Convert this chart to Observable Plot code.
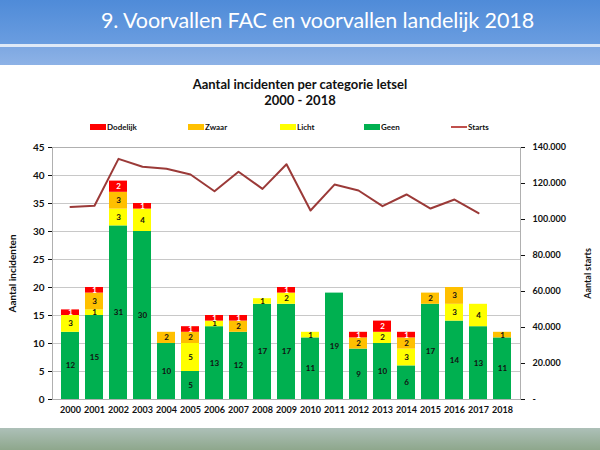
<!DOCTYPE html>
<html>
<head>
<meta charset="utf-8">
<script src="https://cdn.jsdelivr.net/npm/d3@7"></script>
<script src="https://cdn.jsdelivr.net/npm/@observablehq/plot@0.6"></script>
<style>
  html, body { margin: 0; padding: 0; }
  body { width: 600px; height: 450px; position: relative; overflow: hidden; background: #fff; font-family: Lato, "Open Sans", sans-serif; }
  #hdr { position: absolute; left: 0; top: 0; width: 600px; height: 44px; background: linear-gradient(#4f8bd8, #6a9de0); }
  #hdr2 { position: absolute; left: 0; top: 47px; width: 600px; height: 18px; background: linear-gradient(#7ea8e2, #8db2e6); }
  #hline { position: absolute; left: 0; top: 44px; width: 600px; height: 3px; background: #dfe9f7; }
  #htitle { position: absolute; left: 101px; top: 7px; color: #fff; font-size: 21.5px; font-family: Lato, sans-serif; white-space: nowrap; letter-spacing: -0.1px; }
  #foot { position: absolute; left: 0; top: 428px; width: 600px; height: 22px; background: linear-gradient(#adc0b8, #8ea78c); }
  #ctitle { position: absolute; left: 0; width: 600px; top: 76px; text-align: center; font-weight: bold; font-size: 13px; line-height: 16px; color: #111; }
  #legend { position: absolute; top: 121px; left: 0; width: 600px; height: 14px; font-size: 8px; font-weight: bold; color: #111; }
  .li { position: absolute; top: 0; display: flex; align-items: center; height: 12px; }
  .sw { display: inline-block; width: 16px; height: 6px; margin-right: 1px; }
  .ln { display: inline-block; width: 16px; height: 2px; margin-right: 1px; }
  #chart { position: absolute; left: 0; top: 140px; }
</style>
</head>
<body>
<div id="hdr"></div>
<div id="hline"></div>
<div id="hdr2"></div>
<div id="htitle">9. Voorvallen FAC en voorvallen landelijk 2018</div>
<div id="ctitle">Aantal incidenten per categorie letsel<br>2000 - 2018</div>
<div id="legend"></div>
<div id="chart"></div>
<div id="foot"></div>
<script>
const years = ["2000","2001","2002","2003","2004","2005","2006","2007","2008","2009","2010","2011","2012","2013","2014","2015","2016","2017","2018"];
const categories = ["Geen","Licht","Zwaar","Dodelijk"];
const geen     = [12,15,31,30,10, 5,13,12,17,17,11,19, 9,10, 6,17,14,13,11];
const licht    = [ 3, 1, 3, 4, 0, 5, 1, 0, 1, 2, 1, 0, 0, 2, 3, 0, 3, 4, 0];
const zwaar    = [ 0, 3, 3, 0, 2, 2, 0, 2, 0, 0, 0, 0, 2, 0, 2, 2, 3, 0, 1];
const dodelijk = [ 1, 1, 2, 1, 0, 1, 1, 1, 0, 1, 0, 0, 1, 2, 1, 0, 0, 0, 0];
const starts   = [107000,107600,133700,129300,128200,125000,115700,126500,117000,130700,105000,119400,116100,107400,113900,106100,111100,103500,null];
const colors = {Geen:"#00b050", Licht:"#ffff00", Zwaar:"#ffc000", Dodelijk:"#ff0000"};
const lineColor = "#9b3a38";
const rightTicks = [0,20000,40000,60000,80000,100000,120000,140000];

const series = {Geen: geen, Licht: licht, Zwaar: zwaar, Dodelijk: dodelijk};
const rows = [];
for (const c of categories) years.forEach((y, i) => rows.push({year: y, cat: c, value: series[c][i]}));
const nonZero = rows.filter(d => d.value > 0);
const k = 45 / 140000;
const lineRows = years.map((y, i) => ({year: y, starts: starts[i]})).filter(d => d.starts != null);
const fmt = v => { const n = Math.round(v / k); return n === 0 ? "-" : d3.format(",")(n).replace(/,/g, "."); };

// legend
const leg = document.getElementById("legend");
const legItems = [["Dodelijk", 90, "sw"], ["Zwaar", 188, "sw"], ["Licht", 280, "sw"], ["Geen", 364, "sw"], ["Starts", 451, "ln"]];
for (const [name, x, kind] of legItems) {
  const d = document.createElement("div");
  d.className = "li"; d.style.left = x + "px";
  const s = document.createElement("span");
  s.className = kind;
  s.style.background = kind === "ln" ? "#c0504d" : colors[name];
  d.appendChild(s);
  d.appendChild(document.createTextNode(name));
  leg.appendChild(d);
}

const chart = Plot.plot({
  width: 600,
  height: 285,
  marginLeft: 52,
  marginRight: 80,
  marginTop: 7,
  marginBottom: 26,
  style: {fontFamily: "Lato, sans-serif", fontWeight: "bold", fontSize: "9px", color: "#111"},
  x: {domain: years, padding: 0.27, align: 0.5},
  y: {domain: [0, 45]},
  color: {domain: categories, range: categories.map(c => colors[c])},
  marks: [
    Plot.gridY(d3.range(5, 50, 5), {stroke: "#c8c8c8", strokeOpacity: 1}),
    Plot.frame({stroke: "#b0b0b0"}),
    Plot.axisY(d3.range(0, 50, 5), {anchor: "left", tickSize: 4, tickPadding: 4, label: "Aantal incidenten", labelAnchor: "center", labelOffset: 44, labelArrow: "none", fontSize: 10}),
    Plot.axisY(rightTicks.map(v => v * k), {anchor: "right", tickSize: 4, tickPadding: 8, tickFormat: fmt, label: "Aantal starts", labelAnchor: "center", labelOffset: 70, labelArrow: "none"}),
    Plot.axisX({tickSize: 0, tickPadding: 7, label: null, fontSize: 9}),
    Plot.barY(rows, {x: "year", y: "value", fill: "cat", order: categories}),
    Plot.text(nonZero, Plot.stackY({x: "year", y: "value", z: "cat", order: categories, text: d => String(d.value), fill: d => d.cat === "Dodelijk" ? "#fff" : "#111", fontSize: 8, fontWeight: "bold"})),
    Plot.line(lineRows, {x: "year", y: d => d.starts * k, stroke: lineColor, strokeWidth: 2})
  ]
});
document.getElementById("chart").appendChild(chart);
</script>
</body>
</html>
